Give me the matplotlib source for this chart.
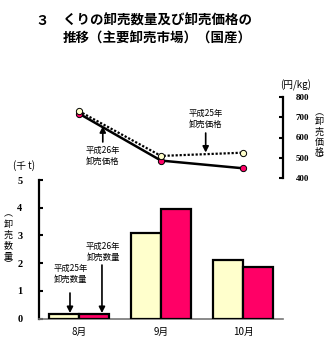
import numpy as np
import matplotlib
matplotlib.use("Agg")
import matplotlib.pyplot as plt

plt.rcParams['font.family'] = ['Noto Sans CJK JP', 'DejaVu Sans']

# 卸売数量（千t）と卸売価格（円/kg）
months = ['8月', '9月', '10月']
qty_h25 = [0.15, 3.1, 2.1]
qty_h26 = [0.15, 3.95, 1.87]
price_h25 = [730, 509, 525]
price_h26 = [718, 486, 448]
qty_ticks = [0, 1, 2, 3, 4, 5]
price_ticks = [400, 500, 600, 700, 800]

YELLOW = '#FFFFCC'
PINK = '#FF0066'
W, H = 326, 342

fig = plt.figure(figsize=(W / 100, H / 100), dpi=100)

def box(l, t, r, b):
    return [l / W, 1 - b / H, (r - l) / W, (b - t) / H]

def vtext(xp, ys, chars, size=6.5):
    # 縦書きの軸ラベル（一文字ずつ配置）
    for yp, c in zip(ys, chars):
        fig.text(xp / W, 1 - yp / H, c, fontsize=size, ha='center', va='center')

x = np.arange(len(months))
xlim = (-0.488, 2.488)
bw = 0.366

# 数量の棒グラフ
ax = fig.add_axes(box(39, 180, 283, 318.5))
ax.patch.set_alpha(0)
ax.bar(x - bw / 2, qty_h25, bw, color=YELLOW, edgecolor='black', linewidth=1.6, zorder=3)
ax.bar(x + bw / 2, qty_h26, bw, color=PINK, edgecolor='black', linewidth=1.6, zorder=3)
ax.set_xlim(*xlim)
ax.set_ylim(0, 5)
ax.set_yticks(qty_ticks)
ax.set_yticklabels([str(v) for v in qty_ticks], family='Liberation Serif',
                   fontweight='bold', fontsize=7.5)
ax.set_xticks(x)
ax.set_xticklabels(months, fontsize=7)
ax.tick_params(axis='x', length=0, pad=6)
ax.tick_params(axis='y', direction='in', length=3, width=1.5, pad=12)
for s in ['top', 'right']:
    ax.spines[s].set_visible(False)
ax.spines['left'].set_linewidth(1.6)
ax.spines['bottom'].set_color('#777777')
ax.spines['bottom'].set_linewidth(1.2)

arrow = dict(arrowstyle='-|>,head_length=0.35,head_width=0.18', color='black', lw=1.2,
             shrinkA=0, shrinkB=0)
ax.annotate('', xy=(-0.11, qty_h25[0] + 0.05), xytext=(-0.11, 0.92), arrowprops=arrow)
ax.text(-0.098, 1.61, '平成25年\n卸売数量', ha='center', va='center', fontsize=6,
        linespacing=1.3)
ax.annotate('', xy=(0.28, qty_h26[0] + 0.05), xytext=(0.28, 1.93), arrowprops=arrow)
ax.text(0.293, 2.4, '平成26年\n卸売数量', ha='center', va='center', fontsize=6,
        linespacing=1.3)

# 価格の折れ線グラフ
ax2 = fig.add_axes(box(39, 97, 283, 178))
ax2.patch.set_alpha(0)
ax2.plot(x, price_h25, color='black', lw=1.6, ls=(0, (1, 0.8)), marker='o', ms=4.5,
         mfc=YELLOW, mec='black', mew=0.7, zorder=3)
ax2.plot(x, price_h26, color='black', lw=1.8, marker='o', ms=4.5,
         mfc=PINK, mec='black', mew=0.7, zorder=2)
ax2.set_xlim(*xlim)
ax2.set_ylim(400, 800)
ax2.set_xticks([])
ax2.yaxis.tick_right()
ax2.set_yticks(price_ticks)
ax2.set_yticklabels([str(v) for v in price_ticks], family='Liberation Serif',
                    fontweight='bold', fontsize=6.5)
ax2.tick_params(axis='y', direction='in', length=3, width=1.5, pad=9)
for s in ['top', 'left', 'bottom']:
    ax2.spines[s].set_visible(False)
ax2.spines['right'].set_linewidth(1.6)

ax2.annotate('', xy=(0.29, 655), xytext=(0.29, 578), arrowprops=arrow)
ax2.text(0.29, 511, '平成26年\n卸売価格', ha='center', va='center', fontsize=6,
         linespacing=1.3)
ax2.annotate('', xy=(1.545, 526), xytext=(1.545, 622), arrowprops=arrow)
ax2.text(1.545, 691, '平成25年\n卸売価格', ha='center', va='center', fontsize=6,
         linespacing=1.3)

# 見出しと単位
fig.text(35 / W, 1 - 21 / H, '３', fontsize=9.7, fontweight='bold', va='center')
fig.text(63 / W, 1 - 21 / H, 'くりの卸売数量及び卸売価格の', fontsize=9.7,
         fontweight='bold', va='center')
fig.text(63 / W, 1 - 39 / H, '推移（主要卸売市場）（国産）', fontsize=9.7,
         fontweight='bold', va='center')
fig.text(24 / W, 1 - 166 / H, '(千 t)', fontsize=7, ha='center', va='center')
fig.text(296 / W, 1 - 85 / H, '(円/kg)', fontsize=7, ha='center', va='center')
vtext(8, [214, 224, 235, 246, 257, 265], '︵卸売数量︶')
vtext(319, [113, 122, 132, 142, 152, 160], '︵卸売価格︶')

fig.savefig('out.png', dpi=100)
